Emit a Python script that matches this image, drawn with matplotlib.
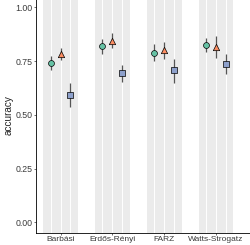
import numpy as np
import matplotlib
matplotlib.use("Agg")
import matplotlib.pyplot as plt

plt.rcParams['font.family'] = ['Liberation Sans', 'DejaVu Sans']

# categorie e valori
categorie = ["Barbási", "Erdős-Rényi", "FARZ", "Watts-Strogatz"]

circ_y = [0.743, 0.820, 0.789, 0.826]
circ_lo = [0.708, 0.785, 0.750, 0.794]
circ_hi = [0.775, 0.851, 0.828, 0.856]

tri_y = [0.785, 0.845, 0.800, 0.815]
tri_lo = [0.755, 0.811, 0.758, 0.764]
tri_hi = [0.812, 0.882, 0.839, 0.866]

sq_y = [0.592, 0.693, 0.707, 0.736]
sq_lo = [0.536, 0.653, 0.650, 0.690]
sq_hi = [0.650, 0.730, 0.761, 0.781]

serie = [
    (circ_y, circ_lo, circ_hi, "o", "#66c2a5", -0.19, 18),
    (tri_y, tri_lo, tri_hi, "^", "#fc8d62", 0.0, 21),
    (sq_y, sq_lo, sq_hi, "s", "#8da0cb", 0.19, 18),
]

fig = plt.figure(figsize=(2.5, 2.45), dpi=100)
ax = fig.add_axes([0.144, 0.049, 0.856, 0.965])

x = np.arange(1, len(categorie) + 1)

# bande grigie con linee bianche
for xi in x:
    ax.axvspan(xi - 0.335, xi + 0.335, color="#ebebeb", lw=0, zorder=0)
    for d in (-0.19, 0.0, 0.19):
        ax.axvline(xi + d, color="white", lw=0.7, zorder=0.5)

for yv, lo, hi, m, c, d, sz in serie:
    yv = np.array(yv)
    err = [yv - np.array(lo), np.array(hi) - yv]
    ax.errorbar(x + d, yv, yerr=err, fmt="none", ecolor="#555555",
                elinewidth=0.9, capsize=0, zorder=2)
    ax.scatter(x + d, yv, marker=m, s=sz, c=c,
               edgecolors="black", linewidths=0.5, zorder=3)

ax.set_xlim(0.527, 4.656)
ax.set_ylim(-0.05, 1.05)
ax.set_xticks(x)
ax.set_xticklabels(categorie)
ax.set_yticks([0, 0.25, 0.5, 0.75, 1.0])
ax.set_yticklabels(["0.00", "0.25", "0.50", "0.75", "1.00"])
ax.set_ylabel("accuracy", fontsize=7.2, labelpad=1, color="#222222")
ax.tick_params(labelsize=6.3, length=1.5, width=0.5, colors="#333333",
               labelcolor="#3a3a3a", pad=1)
ax.tick_params(axis="x", labelsize=6.0)

for s in ["top", "right"]:
    ax.spines[s].set_visible(False)
for s in ["left", "bottom"]:
    ax.spines[s].set_linewidth(0.6)

fig.savefig("out.png", dpi=100)
